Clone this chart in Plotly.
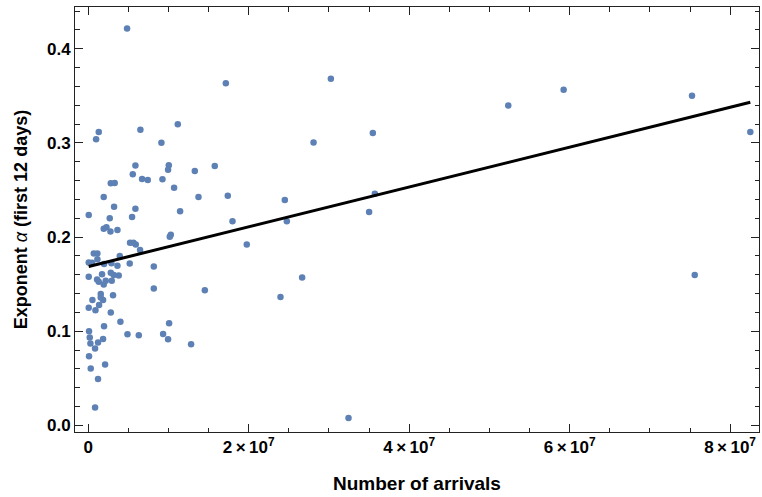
import numpy as np
import plotly.graph_objects as go

# Number of arrivals (in millions) and exponent alpha (first 12 days)
arrivals_millions = [
    4.84, 17.15, 1.31, 0.98, 6.50, 11.16, 9.12, 5.88, 5.55, 6.71, 7.42, 10.04, 9.95, 9.25,
    13.28, 15.77, 2.81, 3.30, 1.93, 10.70, 13.74, 17.39, 3.22, 5.88, 11.45, 0.06, 2.68, 5.46,
    17.98, 19.76, 1.93, 2.27, 2.77, 3.64, 5.21, 5.63, 5.92, 6.46, 10.16, 10.29, 0.69, 1.14,
    3.93, 0.06, 0.48, 1.14, 1.97, 2.89, 3.64, 5.17, 8.17, 0.06, 1.72, 2.81, 3.18, 3.80,
    1.10, 1.31, 1.93, 2.18, 2.93, 8.17, 14.53, 1.56, 1.56, 1.85, 3.09, 0.52, 0.06, 0.90,
    1.35, 2.81, 4.01, 1.97, 0.10, 0.19, 0.27, 0.85, 1.22, 1.85, 4.89, 6.30, 9.33, 10.08,
    9.95, 12.82, 0.10, 0.31, 2.10, 1.22, 0.85,
    30.24, 28.08, 35.47, 24.50, 24.75, 35.01, 35.72, 26.66, 23.96, 32.44,
    52.35, 59.25, 75.25, 82.52, 75.59,
]
exponent_alpha = [
    0.4216, 0.3635, 0.3117, 0.3040, 0.3140, 0.3199, 0.3003, 0.2759, 0.2667, 0.2617, 0.2606, 0.2763, 0.2716, 0.2614,
    0.2702, 0.2755, 0.2571, 0.2574, 0.2426, 0.2525, 0.2426, 0.2440, 0.2323, 0.2302, 0.2273, 0.2234, 0.2199, 0.2213,
    0.2167, 0.1922, 0.2089, 0.2103, 0.2060, 0.2074, 0.1940, 0.1940, 0.1922, 0.1862, 0.2003, 0.2025, 0.1826, 0.1826,
    0.1798, 0.1731, 0.1727, 0.1763, 0.1713, 0.1723, 0.1695, 0.1720, 0.1688, 0.1578, 0.1606, 0.1620, 0.1596, 0.1592,
    0.1550, 0.1525, 0.1497, 0.1535, 0.1535, 0.1454, 0.1436, 0.1394, 0.1358, 0.1330, 0.1383, 0.1330, 0.1248, 0.1223,
    0.1277, 0.1199, 0.1099, 0.1053, 0.1000, 0.0933, 0.0869, 0.0816, 0.0880, 0.0918, 0.0968, 0.0957, 0.0971, 0.1085,
    0.0915, 0.0862, 0.0734, 0.0603, 0.0646, 0.0493, 0.0188,
    0.3681, 0.3004, 0.3106, 0.2394, 0.2167, 0.2266, 0.2461, 0.1571, 0.1362, 0.0078,
    0.3397, 0.3564, 0.3500, 0.3117, 0.1596,
]

# Linear fit
fit_intercept = 0.1686
fit_slope = 2.115e-9

x_tick_values = [0, 2e7, 4e7, 6e7, 8e7]
x_tick_labels = ["0", "2\u2009\u00d7\u200910<sup>7</sup>", "4\u2009\u00d7\u200910<sup>7</sup>",
                 "6\u2009\u00d7\u200910<sup>7</sup>", "8\u2009\u00d7\u200910<sup>7</sup>"]
y_tick_values = [0.0, 0.1, 0.2, 0.3, 0.4]
y_tick_labels = ["0.0", "0.1", "0.2", "0.3", "0.4"]

x = np.array(arrivals_millions) * 1e6
y = np.array(exponent_alpha)

line_x = np.array([x.min(), x.max()])
line_y = fit_intercept + fit_slope * line_x

FONT = "Liberation Sans, Arial, Helvetica, sans-serif"
TICK_COLOR = "#222222"

fig = go.Figure()
fig.add_trace(go.Scatter(
    x=x, y=y, mode="markers",
    marker=dict(color="#5E81B5", size=6.5, line=dict(width=0)),
    showlegend=False, cliponaxis=False,
))
fig.add_trace(go.Scatter(
    x=line_x, y=line_y, mode="lines",
    line=dict(color="black", width=3),
    showlegend=False,
))

fig.update_layout(
    width=762, height=497,
    margin=dict(l=75, r=3, t=7, b=65),
    paper_bgcolor="white", plot_bgcolor="white",
    font=dict(family=FONT, color="black"),
    xaxis=dict(
        range=[-1.65e6, 83.6e6],
        showgrid=False, zeroline=False,
        showline=True, linecolor=TICK_COLOR, linewidth=1, mirror="ticks",
        tickmode="array", tickvals=x_tick_values, ticktext=x_tick_labels,
        ticks="inside", ticklen=8, tickwidth=1.2, tickcolor=TICK_COLOR,
        minor=dict(ticks="inside", dtick=5e6, tick0=0, ticklen=4.5,
                   tickwidth=1.2, tickcolor=TICK_COLOR, showgrid=False),
        tickfont=dict(family=FONT, size=17, color="black", weight="bold"),
        title=dict(text="Number of arrivals", standoff=20,
                   font=dict(family=FONT, size=19, color="black", weight="bold")),
    ),
    yaxis=dict(
        range=[-0.0071, 0.4444],
        showgrid=False, zeroline=False,
        showline=True, linecolor=TICK_COLOR, linewidth=1, mirror="ticks",
        tickmode="array", tickvals=y_tick_values, ticktext=y_tick_labels,
        ticks="inside", ticklen=8, tickwidth=1.2, tickcolor=TICK_COLOR,
        minor=dict(ticks="inside", dtick=0.02, tick0=0, ticklen=4.5,
                   tickwidth=1.2, tickcolor=TICK_COLOR, showgrid=False),
        tickfont=dict(family=FONT, size=17, color="black", weight="bold"),
        title=dict(text="Exponent <span style='font-weight:normal'><i>\u03b1</i></span> (first 12 days)",
                   standoff=14,
                   font=dict(family=FONT, size=18, color="black", weight="bold")),
    ),
)

fig.write_html("out.html", config={"displayModeBar": False},
               post_script="document.body.style.margin='0';")
